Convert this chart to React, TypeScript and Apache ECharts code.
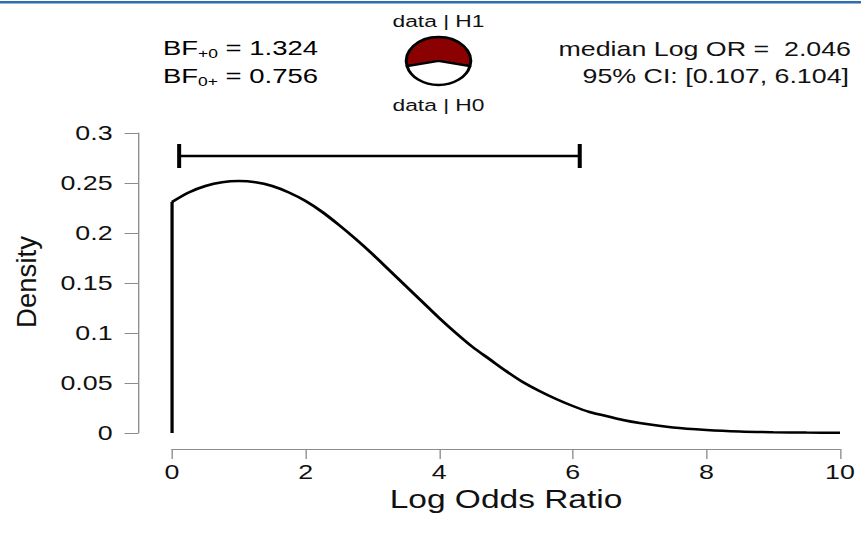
import React, { useEffect, useRef } from 'react';
import * as echarts from 'echarts';

// The reference is horizontally stretched; we draw at a narrower width and stretch with CSS.
const S = 1.34;
const FULL_W = 861;
const FULL_H = 534;
const W = FULL_W / S;
const sx = (px: number) => px / S;

// Posterior density of the log odds ratio
const densityX = [0, 0.25, 0.5, 0.75, 1, 1.25, 1.5, 1.75, 2, 2.25, 2.5, 2.75, 3, 3.25, 3.5, 3.75, 4, 4.25, 4.5, 4.75, 5, 5.25, 5.5, 5.75, 6, 6.25, 6.5, 6.75, 7, 7.5, 8, 8.5, 9, 9.5, 10];
const densityY = [0.231, 0.2405, 0.247, 0.2508, 0.252, 0.2508, 0.247, 0.2405, 0.232, 0.221, 0.208, 0.194, 0.179, 0.163, 0.147, 0.131, 0.115, 0.1, 0.086, 0.074, 0.062, 0.051, 0.042, 0.034, 0.027, 0.021, 0.017, 0.013, 0.01, 0.0055, 0.003, 0.0015, 0.0008, 0.0004, 0.0002];

// 95% credible interval and its drawing height
const ciRange = [0.107, 6.104];
const ciHeight = 0.277;
const medianLogOR = 2.046;

// Bayes factors
const bfNames = ['+0', '0+'];
const bfValues = [1.324, 0.756];

const pieLabels = ['data | H1', 'data | H0'];
const pieColors = ['#8b0000', '#ffffff'];

export default function App() {
  const ref = useRef<HTMLDivElement>(null);

  useEffect(() => {
    document.body.style.margin = '0';
    document.body.style.overflow = 'hidden';
    const chart = echarts.init(ref.current!, null, { renderer: 'svg', width: W, height: FULL_H });
    const font = '"Liberation Sans", Arial, Helvetica, sans-serif';
    const pH1 = bfValues[0] / (1 + bfValues[0]);
    const pieValues = [pH1, 1 - pH1];
    const axisGrey = '#8c8c8c';
    const txt = '#111';

    const bfText = (i: number) => `{m|BF}{s|${bfNames[i]}}{m| = ${bfValues[i].toFixed(3)}}`;
    const rich = {
      m: { fontSize: 20.5, lineHeight: 24, fontFamily: font, color: txt },
      s: { fontSize: 13, lineHeight: 13, fontFamily: font, color: txt, verticalAlign: 'bottom' },
    };

    chart.setOption({
      animation: false,
      textStyle: { fontFamily: font },
      grid: { left: sx(172), right: W - sx(840), top: 133, bottom: FULL_H - 433 },
      xAxis: {
        type: 'value', min: 0, max: 10, interval: 2, offset: 16,
        axisLine: { show: true, onZero: false, lineStyle: { color: axisGrey, width: 1 } },
        axisTick: { show: true, length: 10, lineStyle: { color: axisGrey, width: 1 } },
        axisLabel: { fontSize: 20, color: txt, margin: 13, fontFamily: font },
        splitLine: { show: false },
        name: 'Log Odds Ratio', nameLocation: 'middle', nameGap: 25,
        nameTextStyle: { fontSize: 25, color: txt, fontFamily: font },
      },
      yAxis: {
        type: 'value', min: 0, max: 0.3, interval: 0.05, offset: sx(172) - sx(138),
        axisLine: { show: true, onZero: false, lineStyle: { color: axisGrey, width: 1 } },
        axisTick: { show: true, length: 10, lineStyle: { color: axisGrey, width: 1 } },
        axisLabel: { fontSize: 20, color: txt, margin: 19, fontFamily: font },
        splitLine: { show: false },
      },
      series: [
        {
          type: 'line',
          data: [[densityX[0], 0], [densityX[0], densityY[0]]],
          showSymbol: false,
          silent: true,
          lineStyle: { color: '#000', width: 2.5 },
          z: 2,
        },
        {
          type: 'line',
          data: densityX.map((x, i) => [x, densityY[i]]),
          showSymbol: false,
          silent: true,
          smooth: 0.3,
          lineStyle: { color: '#000', width: 2.5 },
          z: 2,
        },
        {
          type: 'custom',
          silent: true,
          data: [[ciRange[0], ciRange[1], ciHeight]],
          encode: { x: [0, 1], y: 2 },
          z: 3,
          renderItem: (params: any, api: any) => {
            const a = api.coord([api.value(0), api.value(2)]);
            const b = api.coord([api.value(1), api.value(2)]);
            const h = 12;
            return {
              type: 'group',
              children: [
                { type: 'line', shape: { x1: a[0], y1: a[1], x2: b[0], y2: b[1] }, style: { stroke: '#000', lineWidth: 2.5 } },
                { type: 'line', shape: { x1: a[0], y1: a[1] - h, x2: a[0], y2: a[1] + h }, style: { stroke: '#000', lineWidth: 3 } },
                { type: 'line', shape: { x1: b[0], y1: b[1] - h, x2: b[0], y2: b[1] + h }, style: { stroke: '#000', lineWidth: 3 } },
              ],
            };
          },
        },
        {
          type: 'pie',
          silent: true,
          center: [sx(438.5), 61],
          radius: 24,
          startAngle: 90 + 180 * pieValues[0],
          clockwise: true,
          label: { show: false },
          labelLine: { show: false },
          emphasis: { disabled: true },
          itemStyle: { borderColor: '#000', borderWidth: 2.3 },
          data: pieLabels.map((n, i) => ({ name: n, value: pieValues[i], itemStyle: { color: pieColors[i] } })),
        },
      ],
      graphic: [
        { type: 'rect', silent: true, shape: { x: 0, y: 1, width: W, height: 2.5 }, style: { fill: '#2f6eae' } },
        { type: 'text', silent: true, x: sx(438.5), y: 21, style: { text: pieLabels[0], fontSize: 17, fontFamily: font, fill: txt, align: 'center', verticalAlign: 'middle' } },
        { type: 'text', silent: true, x: sx(438.5), y: 105, style: { text: pieLabels[1], fontSize: 17, fontFamily: font, fill: txt, align: 'center', verticalAlign: 'middle' } },
        { type: 'text', silent: true, x: sx(163), y: 48, style: { text: bfText(0), rich, align: 'left', verticalAlign: 'middle' } },
        { type: 'text', silent: true, x: sx(163), y: 76, style: { text: bfText(1), rich, align: 'left', verticalAlign: 'middle' } },
        { type: 'text', silent: true, x: sx(851), y: 49, style: { text: `median Log OR =  ${medianLogOR.toFixed(3)}`, fontSize: 20, fontFamily: font, fill: txt, align: 'right', verticalAlign: 'middle' } },
        { type: 'text', silent: true, x: sx(849), y: 76, style: { text: `95% CI: [${ciRange[0].toFixed(3)}, ${ciRange[1].toFixed(3)}]`, fontSize: 20, fontFamily: font, fill: txt, align: 'right', verticalAlign: 'middle' } },
        { type: 'text', silent: true, x: sx(27), y: 282, rotation: Math.PI / 2, scaleX: 1.38, scaleY: 1.02, style: { text: 'Density', fontSize: 20, fontFamily: font, fill: txt, align: 'center', verticalAlign: 'middle' } },
      ],
    });
    return () => chart.dispose();
  }, []);

  return (
    <div
      ref={ref}
      style={{ position: 'absolute', left: 0, top: 0, width: W, height: FULL_H, transform: `scaleX(${S})`, transformOrigin: '0 0' }}
    />
  );
}
